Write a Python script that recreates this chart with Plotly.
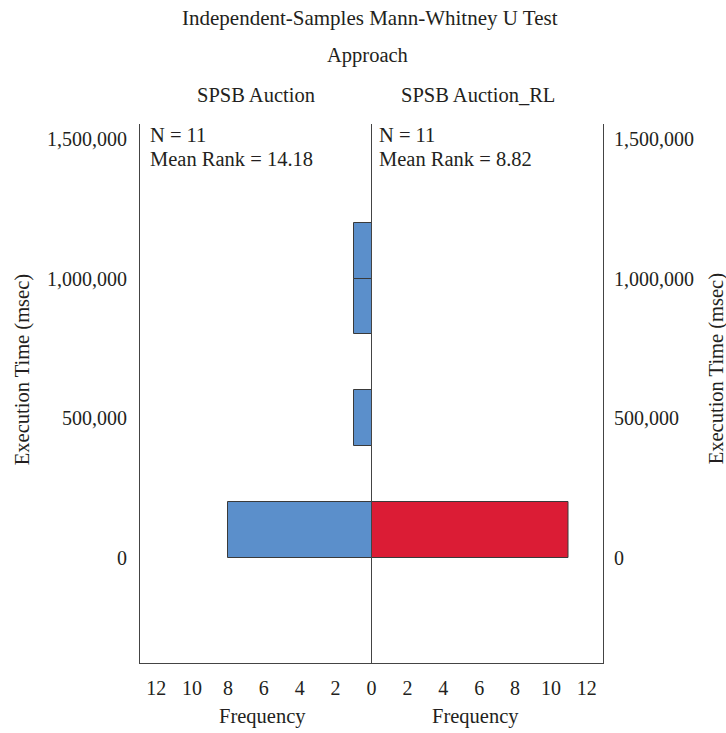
import plotly.graph_objects as go

# Histogram bins of execution time (msec), 200,000 wide
bin_centers = [100000, 500000, 900000, 1100000]
bin_width = 200000
freq_auction = [8, 1, 1, 1]          # SPSB Auction
freq_auction_rl = [11, 0, 0, 0]      # SPSB Auction_RL

group_names = ["SPSB Auction", "SPSB Auction_RL"]
group_n = [11, 11]
mean_ranks = [14.18, 8.82]

y_ticks = [0, 500000, 1000000, 1500000]
y_tick_text = ["0", "500,000", "1,000,000", "1,500,000"]
x_ticks_left = [0, 2, 4, 6, 8, 10, 12]
x_ticks_right = [2, 4, 6, 8, 10, 12]   # shared 0 is labelled once

FONT = "Liberation Serif"
TXT = "#231f20"
BLUE = "#5b8fcb"
RED = "#db1c35"
EDGE = "#3a3a3a"
TICK_SIZE = 20
TEXT_SIZE = 20.5

fig = go.Figure()

fig.add_trace(go.Bar(
    x=freq_auction, y=bin_centers, width=[bin_width] * len(bin_centers),
    orientation="h", marker=dict(color=BLUE, line=dict(color=EDGE, width=1)),
    xaxis="x", yaxis="y", showlegend=False, hoverinfo="x+y",
))
fig.add_trace(go.Bar(
    x=freq_auction_rl, y=bin_centers, width=[bin_width] * len(bin_centers),
    orientation="h", marker=dict(color=RED, line=dict(color=EDGE, width=1)),
    xaxis="x2", yaxis="y2", showlegend=False, hoverinfo="x+y",
))

y_range = [-376000, 1553000]
x_max = 12.9

common_x = dict(
    showgrid=False, zeroline=False, showline=True,
    linecolor="#444", linewidth=1, ticks="", ticklabelstandoff=7,
    tickfont=dict(family=FONT, size=TICK_SIZE, color=TXT), fixedrange=True,
)
common_y = dict(
    range=y_range, tickvals=y_ticks, ticktext=y_tick_text, showgrid=False,
    zeroline=False, showline=True, linecolor="#444", linewidth=1, ticks="",
    tickfont=dict(family=FONT, size=TICK_SIZE, color=TXT), fixedrange=True,
)

fig.update_layout(
    width=726, height=733,
    margin=dict(l=140, r=123, t=124, b=70),
    paper_bgcolor="white", plot_bgcolor="white",
    bargap=0,
    xaxis=dict(common_x, domain=[0, 0.5], range=[x_max, 0], anchor="y",
               tickvals=x_ticks_left),
    xaxis2=dict(common_x, domain=[0.5, 1], range=[0, x_max], anchor="y2",
                tickvals=x_ticks_right),
    yaxis=dict(common_y, anchor="x", side="left", ticklabelstandoff=8),
    yaxis2=dict(common_y, anchor="x2", side="right", mirror=True,
                ticklabelstandoff=6),
)

def note(text, x, y, xanchor="center", size=TEXT_SIZE, angle=0):
    fig.add_annotation(
        text=text, x=x, y=y, xref="paper", yref="paper", showarrow=False,
        xanchor=xanchor, yanchor="middle", textangle=angle,
        font=dict(family=FONT, size=size, color=TXT),
    )

note("Independent-Samples Mann-Whitney U Test", 0.497, 1.1967, size=21)
note("Approach", 0.491, 1.1262)
note(group_names[0], 0.251, 1.0538)
note(group_names[1], 0.730, 1.0538)

for i, xl in enumerate([0.018, 0.511]):
    note(f"N = {group_n[i]}", xl, 0.9796, xanchor="left")
    note(f"Mean Rank = {mean_ranks[i]:.2f}", xl, 0.9351, xanchor="left")

note("Frequency", 0.265, -0.0995)
note("Frequency", 0.724, -0.0995)

# vertical axis titles on both sides
note("Execution Time (msec)", -0.2549, 0.545, angle=-90)
note("Execution Time (msec)", 1.2441, 0.545, angle=-90)

fig.write_html("out.html")
